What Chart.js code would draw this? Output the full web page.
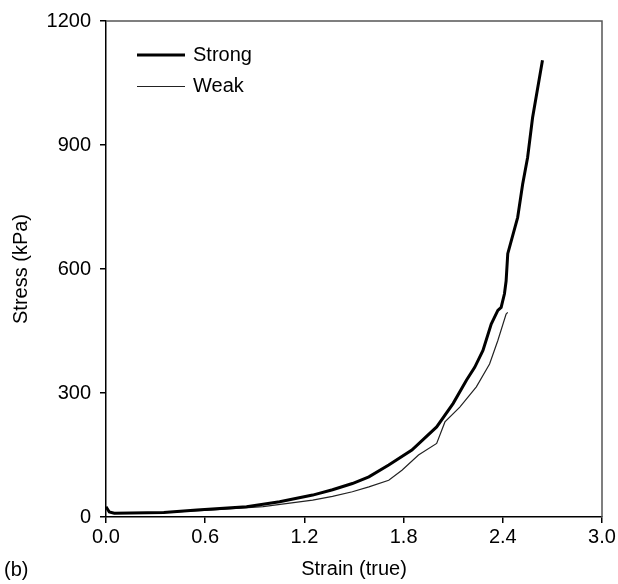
<!DOCTYPE html>
<html>
<head>
<meta charset="utf-8">
<script src="https://cdn.jsdelivr.net/npm/chart.js@4.4.1/dist/chart.umd.min.js"></script>
<style>
  html, body { margin: 0; padding: 0; background: #fff; }
  #wrap { width: 618px; height: 584px; position: relative; }
</style>
</head>
<body>
<div id="wrap"><canvas id="stressChart" width="618" height="584"></canvas></div>
<script>
// values
const strongStrain = [0, 0.02, 0.05, 0.35, 0.55, 0.85, 1.05, 1.25, 1.37, 1.49, 1.59, 1.71, 1.85, 2.0, 2.1, 2.18, 2.23, 2.28, 2.33, 2.37, 2.39, 2.41, 2.42, 2.43, 2.49, 2.52, 2.55, 2.58, 2.64];
const strongStress = [25, 12, 9, 11, 17, 25, 37, 53, 66, 81, 97, 126, 162, 218, 275, 331, 362, 403, 467, 500, 507, 540, 571, 637, 725, 805, 870, 966, 1105];
const weakStrain = [0.3, 0.65, 0.95, 1.25, 1.37, 1.49, 1.59, 1.71, 1.79, 1.89, 2.0, 2.05, 2.14, 2.24, 2.32, 2.37, 2.42, 2.43];
const weakStress = [10, 17, 25, 41, 50, 61, 73, 89, 113, 150, 178, 230, 266, 315, 370, 427, 491, 495];
const xTicks = [0, 0.6, 1.2, 1.8, 2.4, 3.0];
const yTicks = [0, 300, 600, 900, 1200];

function toPoints(xs, ys) {
    return xs.map(function (x, i) { return { x: x, y: ys[i] }; });
}

const FONT = 'Liberation Sans, Arial, Helvetica, sans-serif';

// frame on top/right, inline legend and the "(b)" label
const extras = {
    id: 'extras',
    afterDraw: function (chart) {
        const ctx = chart.ctx;
        const a = chart.chartArea;
        ctx.save();
        ctx.strokeStyle = '#555';
        ctx.lineWidth = 1.5;
        ctx.beginPath();
        ctx.moveTo(a.left, a.top);
        ctx.lineTo(a.right, a.top);
        ctx.lineTo(a.right, a.bottom);
        ctx.stroke();

        // legend
        ctx.font = '20px ' + FONT;
        ctx.fillStyle = '#000';
        ctx.textBaseline = 'middle';
        chart.data.datasets.forEach(function (ds, i) {
            const y = 55 + i * 31.5;
            ctx.strokeStyle = ds.borderColor;
            ctx.lineWidth = ds.borderWidth;
            ctx.beginPath();
            ctx.moveTo(137, y);
            ctx.lineTo(185, y);
            ctx.stroke();
            ctx.fillText(ds.label, 193, y);
        });

        ctx.fillText('(b)', 4, 570);
        ctx.restore();
    }
};

new Chart(document.getElementById('stressChart').getContext('2d'), {
    type: 'scatter',
    data: {
        datasets: [
            {
                label: 'Strong',
                data: toPoints(strongStrain, strongStress),
                showLine: true,
                borderColor: '#000',
                borderWidth: 3,
                pointRadius: 0,
                tension: 0
            },
            {
                label: 'Weak',
                data: toPoints(weakStrain, weakStress),
                showLine: true,
                borderColor: '#222',
                borderWidth: 1.2,
                pointRadius: 0,
                tension: 0
            }
        ]
    },
    options: {
        responsive: false,
        animation: false,
        layout: { padding: { top: 19, right: 16, left: 0, bottom: 0 } },
        plugins: {
            legend: { display: false },
            tooltip: { enabled: false }
        },
        scales: {
            x: {
                type: 'linear',
                min: 0,
                max: 3,
                afterBuildTicks: function (scale) {
                    scale.ticks = xTicks.map(function (v) { return { value: v }; });
                },
                afterFit: function (scale) { scale.height = 67; },
                ticks: {
                    color: '#000',
                    font: { size: 20, family: FONT },
                    padding: 2,
                    maxRotation: 0,
                    callback: function (v) { return v.toFixed(1); }
                },
                grid: { drawOnChartArea: false, drawTicks: true, tickLength: 6, color: '#000', lineWidth: 1.5 },
                border: { display: true, color: '#000', width: 1.5 },
                title: {
                    display: true,
                    text: 'Strain (true)',
                    color: '#000',
                    font: { size: 20, family: FONT },
                    padding: { top: 0, bottom: 3 }
                }
            },
            y: {
                type: 'linear',
                min: 0,
                max: 1200,
                afterBuildTicks: function (scale) {
                    scale.ticks = yTicks.map(function (v) { return { value: v }; });
                },
                afterFit: function (scale) { scale.width = 106; },
                ticks: {
                    color: '#000',
                    font: { size: 20, family: FONT },
                    padding: 9,
                    callback: function (v) { return String(v); }
                },
                grid: { drawOnChartArea: false, drawTicks: true, tickLength: 6, color: '#000', lineWidth: 1.5 },
                border: { display: true, color: '#000', width: 1.5 },
                title: {
                    display: true,
                    text: 'Stress (kPa)',
                    color: '#000',
                    font: { size: 20, family: FONT },
                    padding: { top: 9, bottom: 0 }
                }
            }
        }
    },
    plugins: [extras]
});
</script>
</body>
</html>
